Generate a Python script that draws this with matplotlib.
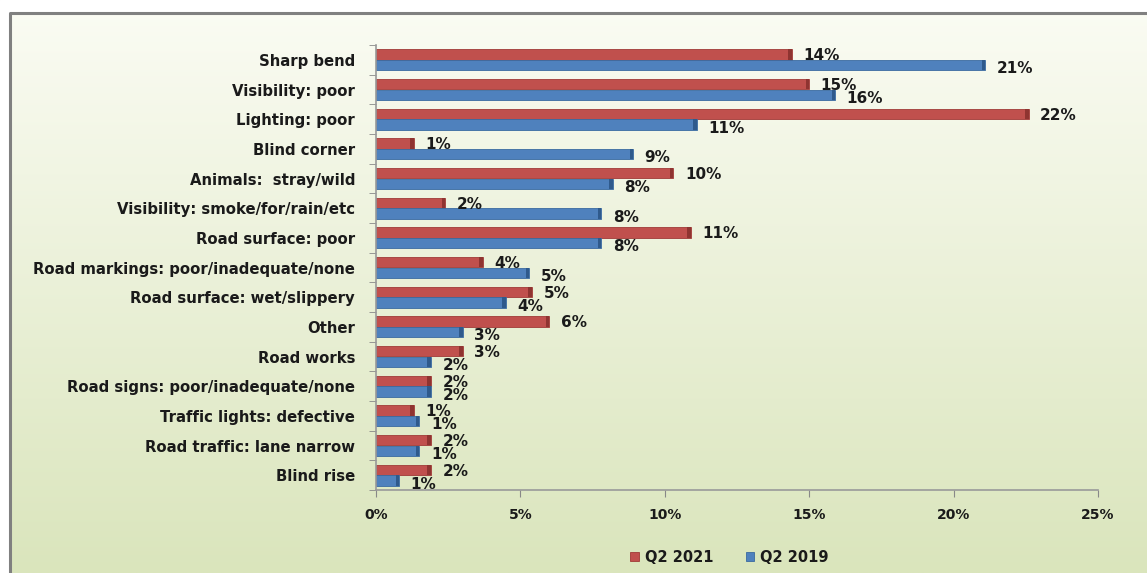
import numpy as np
import matplotlib
matplotlib.use('Agg')
from matplotlib import pyplot as plt
from matplotlib.patches import Rectangle

categories = ['Sharp bend', 'Visibility: poor', 'Lighting: poor', 'Blind corner',
              'Animals:  stray/wild', 'Visibility: smoke/for/rain/etc', 'Road surface: poor',
              'Road markings: poor/inadequate/none', 'Road surface: wet/slippery', 'Other',
              'Road works', 'Road signs: poor/inadequate/none', 'Traffic lights: defective',
              'Road traffic: lane narrow', 'Blind rise']
q2_2021 = [14.4, 15.0, 22.6, 1.3, 10.3, 2.4, 10.9, 3.7, 5.4, 6.0, 3.0, 1.9, 1.3, 1.9, 1.9]
q2_2019 = [21.1, 15.9, 11.1, 8.9, 8.2, 7.8, 7.8, 5.3, 4.5, 3.0, 1.9, 1.9, 1.5, 1.5, 0.8]
labels_2021 = ['14%', '15%', '22%', '1%', '10%', '2%', '11%', '4%', '5%', '6%', '3%', '2%', '1%', '2%', '2%']
labels_2019 = ['21%', '16%', '11%', '9%', '8%', '8%', '8%', '5%', '4%', '3%', '2%', '2%', '1%', '1%', '1%']
xticks = [0, 5, 10, 15, 20, 25]

red = '#C0504D'
blue = '#4F81BD'
txt = '#1a1a1a'

fig = plt.figure(figsize=(11.47, 5.73), dpi=100)

# gradient background
bg = fig.add_axes([0, 0, 1, 1], zorder=-10)
top = np.array([251, 252, 244]) / 255.0
bot = np.array([218, 229, 188]) / 255.0
t = np.linspace(0, 1, 256)[:, None]
grad = top[None, :] * (1 - t) + bot[None, :] * t
bg.imshow(np.repeat(grad[:, None, :], 4, axis=1), aspect='auto', extent=[0, 1, 0, 1])
# white strip above / left of the frame
bg.add_patch(Rectangle((0, 1 - 12 / 573), 1, 12 / 573, color='white', zorder=5))
bg.add_patch(Rectangle((0, 0), 9 / 1147, 1, color='white', zorder=5))
bg.plot([10 / 1147, 10 / 1147, 1], [0, 1 - 13 / 573, 1 - 13 / 573], color='#808080', lw=2.2, zorder=6)
bg.set_xlim(0, 1)
bg.set_ylim(0, 1)
bg.axis('off')

ax = fig.add_axes([376 / 1147, 1 - 490 / 573, 722 / 1147, 445 / 573])
ax.patch.set_alpha(0)
y = np.arange(len(categories))
h = 0.34
off = 0.18

ax.barh(y - off, q2_2021, height=h, color=red, edgecolor='#a03a37', linewidth=0.6, label='Q2 2021')
ax.barh(y + off, q2_2019, height=h, color=blue, edgecolor='#3a6aa0', linewidth=0.6, label='Q2 2019')
# darker end caps (3D look)
ax.barh(y - off, 0.12, left=np.array(q2_2021) - 0.12, height=h, color='#8f3431', linewidth=0)
ax.barh(y + off, 0.12, left=np.array(q2_2019) - 0.12, height=h, color='#2f5a8c', linewidth=0)

for i in range(len(categories)):
    ax.text(q2_2021[i] + 0.4, y[i] - off + 0.05, labels_2021[i], va='center', ha='left',
            fontsize=11, fontweight='bold', color=txt)
    ax.text(q2_2019[i] + 0.4, y[i] + off + 0.12, labels_2019[i], va='center', ha='left',
            fontsize=11, fontweight='bold', color=txt)

ax.set_xlim(0, 25)
ax.set_ylim(len(categories) - 0.55, -0.45)
ax.set_xticks(xticks)
ax.set_xticklabels(['{}%'.format(v) for v in xticks], fontsize=10, fontweight='bold', color=txt)
ax.set_yticks(y)
ax.set_yticklabels(categories, fontsize=10.7, fontweight='bold', color=txt)
ax.set_yticks(np.arange(len(categories) + 1) - 0.5, minor=True)
ax.tick_params(axis='y', which='major', length=0, pad=15)
ax.tick_params(axis='y', which='minor', length=5, color='#888888')
ax.tick_params(axis='x', length=5, color='#888888', pad=8)
for s in ['top', 'right']:
    ax.spines[s].set_visible(False)
ax.spines['left'].set_color('#999999')
ax.spines['bottom'].set_color('#999999')
ax.spines['left'].set_linewidth(1.2)
ax.spines['bottom'].set_linewidth(1.2)

leg = fig.legend(handles=ax.containers[:2], labels=['Q2 2021', 'Q2 2019'], loc='center',
                 bbox_to_anchor=(0.636, 1 - 557 / 573), ncol=2, frameon=False,
                 fontsize=10.5, handlelength=0.6, handleheight=0.6, columnspacing=2.2, handletextpad=0.4)
for t_ in leg.get_texts():
    t_.set_fontweight('bold')
    t_.set_color(txt)

fig.savefig('out.png', dpi=100)
